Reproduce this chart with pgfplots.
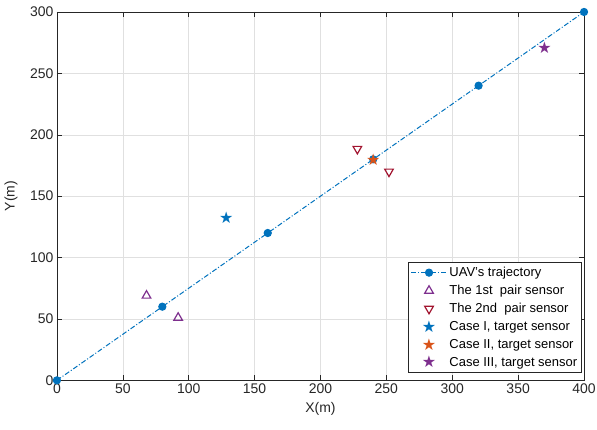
\documentclass[border=0pt]{standalone}
\usepackage{pgfplots}
\pgfplotsset{compat=1.18}
\usepackage{fontspec}
\setmainfont{Liberation Sans}
\definecolor{mblue}{rgb}{0,0.447,0.741}
\definecolor{morange}{rgb}{0.85,0.325,0.098}
\definecolor{mpurple}{rgb}{0.494,0.184,0.556}
\definecolor{mred}{rgb}{0.635,0.078,0.184}
\pgfplotsset{legend image code/.code={\draw[mark repeat=2,mark phase=2,#1] plot coordinates {(0pt,0pt) (18pt,0pt) (36pt,0pt)};}}
\begin{document}
\begin{tikzpicture}
\begin{axis}[
  scale only axis,
  width=528pt, height=369pt,
  xmin=0, xmax=400, ymin=0, ymax=300,
  xtick={0,50,...,400}, ytick={0,50,...,300},
  grid=major,
  major grid style={line width=0.5pt, color=black!12},
  axis line style={line width=0.6pt, color=black!85},
  tick style={color=black!85, line width=0.5pt},
  tick align=inside,
  major tick length=5pt,
  tick label style={font=\fontsize{14}{16}\selectfont, color=black!85},
  /pgf/number format/assume math mode=true,
  xlabel={X(m)}, ylabel={Y(m)},
  label style={font=\fontsize{14}{16}\selectfont, color=black!85},
  xlabel style={at={(axis description cs:0.5,0)}, anchor=center, yshift=-29pt},
  ylabel style={at={(axis description cs:-0.087,0.5)}, anchor=center, inner sep=0pt},
  legend style={at={(0.996,0.022)}, anchor=south east, font=\fontsize{13}{15}\selectfont,
    draw=black!85, line width=0.5pt, inner sep=2.5pt, row sep=3.2pt, cells={anchor=west}},
  legend cell align=left,
  clip=false,
]
\addplot[color=mblue, line width=1pt, dash pattern=on 5pt off 2pt on 1pt off 2pt,
  mark=*, mark size=3.6pt, mark options={solid, fill=mblue}]
  coordinates {(0,0) (80,60) (160,120) (240,180) (320,240) (400,300)};
\addlegendentry{UAV's trajectory}
\addplot[only marks, color=mpurple, mark=triangle, mark size=5pt, mark options={line width=1.2pt}]
  coordinates {(68,69) (92,51)};
\addlegendentry{The 1st\ \ pair sensor}
\addplot[only marks, color=mred, mark=triangle, mark size=5pt, mark options={rotate=180, line width=1.2pt}]
  coordinates {(228,188.5) (252,170)};
\addlegendentry{The 2nd\ \ pair sensor}
\addplot[only marks, mark=text, text mark={\fontspec{DejaVu Sans}\fontsize{16}{16}\selectfont\textcolor{mblue}{★}}]
  coordinates {(128.5,132.5)};
\addlegendentry{Case I, target sensor}
\addplot[only marks, mark=text, text mark={\fontspec{DejaVu Sans}\fontsize{16}{16}\selectfont\textcolor{morange}{★}}]
  coordinates {(240,180)};
\addlegendentry{Case II, target sensor}
\addplot[only marks, mark=text, text mark={\fontspec{DejaVu Sans}\fontsize{16}{16}\selectfont\textcolor{mpurple}{★}}]
  coordinates {(370,270.5)};
\addlegendentry{Case III, target sensor}
\path (rel axis cs:0,0) ++(-57pt,-49pt) coordinate (bbA);
\path (rel axis cs:1,1) ++(13pt,12pt) coordinate (bbB);
\end{axis}
\pgfresetboundingbox
\path[use as bounding box] (bbA) rectangle (bbB);
\end{tikzpicture}
\end{document}
